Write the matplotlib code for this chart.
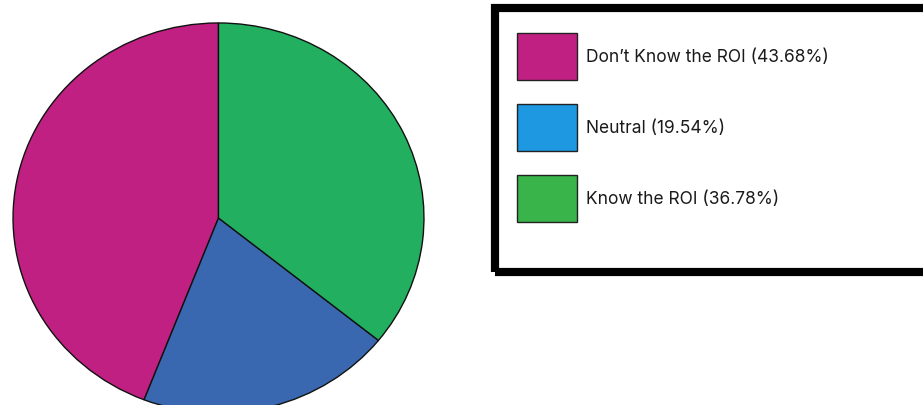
import matplotlib.pyplot as plt
from matplotlib.patches import Rectangle

# Data
labels = ["Don\u2019t Know the ROI", "Neutral", "Know the ROI"]
shares = [43.68, 19.54, 36.78]           # as printed in the legend
wedge_sizes = [44.1, 20.1, 35.8]         # as drawn in the pie
pie_colors = ["#C02082", "#3A68B0", "#22B060"]
legend_colors = ["#C02082", "#1E98E0", "#38B44A"]

W, H = 923, 405
fig = plt.figure(figsize=(W / 100, H / 100), dpi=100)
plt.rcParams['font.family'] = ['Inter', 'DejaVu Sans']

# Pie (slightly oval, bottom runs off the canvas)
ax = fig.add_axes([12 / W, (H - 414) / H, 413 / W, 392 / H])
ax.pie(wedge_sizes, colors=pie_colors, startangle=90, counterclock=True,
       radius=1, wedgeprops=dict(edgecolor='#111111', linewidth=1.0))
ax.set_aspect('auto')
ax.set_xlim(-1.005, 1.005)
ax.set_ylim(-1.005, 1.005)
ax.axis('off')

# Legend box with thick border
fig.patches.append(Rectangle((495 / W, (H - 271.8) / H), 440 / W, 263.8 / H,
                             transform=fig.transFigure, fill=False,
                             edgecolor='black', linewidth=5.9,
                             joinstyle='miter', clip_on=False))

# Legend entries
for i, (lab, val, col) in enumerate(zip(labels, shares, legend_colors)):
    top = 33 + i * 71
    fig.patches.append(Rectangle((517 / W, (H - top - 47) / H), 60 / W, 47 / H,
                                 transform=fig.transFigure, facecolor=col,
                                 edgecolor='#222222', linewidth=1.0))
    fig.text(586 / W, (H - top - 24.5) / H, f"{lab} ({val:.2f}%)",
             fontsize=12.5, color='#1a1a1a', va='center', ha='left')

fig.savefig("out.png", dpi=100)
